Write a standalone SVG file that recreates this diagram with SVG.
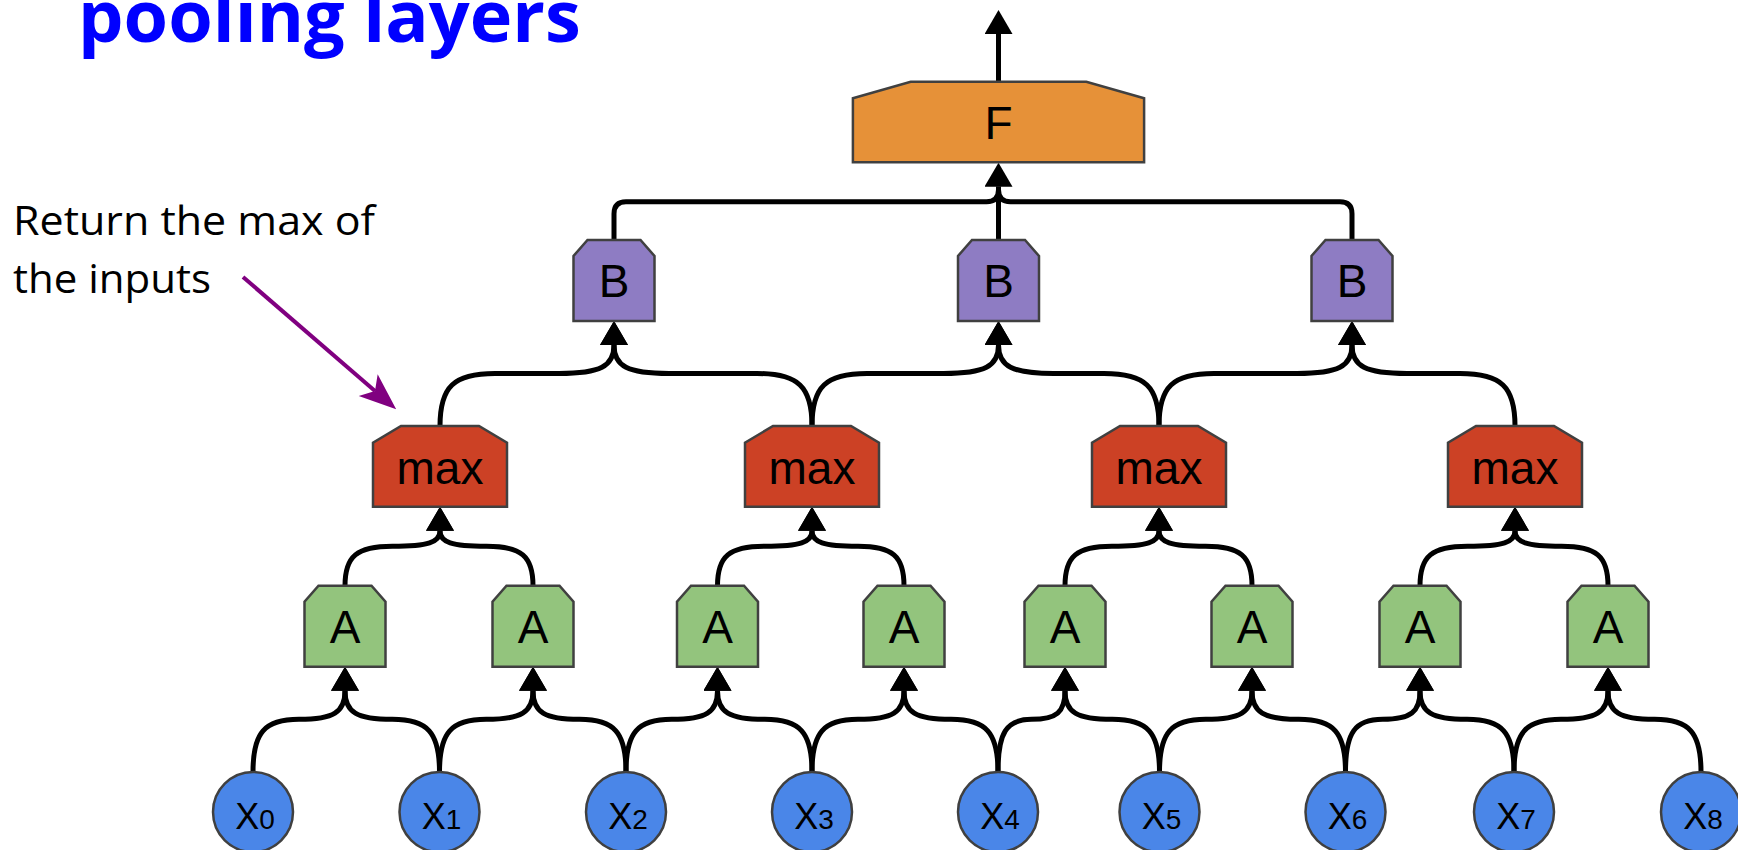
<svg xmlns="http://www.w3.org/2000/svg" xmlns:xlink="http://www.w3.org/1999/xlink" width="1738" height="850" viewBox="0 0 1738 850">
<defs>
<style>
.edge{fill:none;stroke:#000;stroke-width:5;stroke-linejoin:round;marker-end:url(#ah)}
.bus{fill:none;stroke:#000;stroke-width:5;stroke-linejoin:round}
.shape{stroke:#404040;stroke-width:2.5}
.ga{fill:#93c47d}
.rm{fill:#cc4125}
.pb{fill:#8e7cc3}
.of{fill:#e69138}
.bx{fill:#4a86e8}
.lbl{font-family:"Liberation Sans",Arial,sans-serif;font-size:46px;text-anchor:middle;fill:#000}
.xl{font-family:"Liberation Sans",Arial,sans-serif;font-size:36px;text-anchor:middle;fill:#000}
.sub{font-size:28px}
.title{font-family:"Open Sans","Noto Sans",sans-serif;font-weight:700;font-size:72px;fill:#0000ff}
.note{font-family:"Open Sans","Noto Sans",sans-serif;font-weight:400;font-size:41px;fill:#000}
</style>
<marker id="ah" markerUnits="userSpaceOnUse" viewBox="0 0 26 28" markerWidth="26" markerHeight="28" refX="0" refY="14" orient="auto">
<path d="M0,0 L24,14 L0,28 Z" fill="#000"/>
</marker>
<marker id="pa" markerUnits="userSpaceOnUse" viewBox="0 0 38 30" markerWidth="38" markerHeight="30" refX="9" refY="15" orient="auto">
<path d="M0,0.5 L37,15 L0,29.5 L9,15 Z" fill="#800080"/>
</marker>
<path id="shA" d="M-40.5,40.5 V-24.5 L-26.5,-40.5 H26.5 L40.5,-24.5 V40.5 Z"/>
<path id="shM" d="M-67,40.35 V-23.65 L-39,-40.35 H39 L67,-23.65 V40.35 Z"/>
</defs>
<rect width="1738" height="850" fill="#fff"/>

<text class="title" x="78" y="42">pooling layers</text>

<g id="annotation">
<text class="note"><tspan x="13" y="235" textLength="362" lengthAdjust="spacingAndGlyphs">Return the max of</tspan><tspan x="13" y="293" textLength="198" lengthAdjust="spacingAndGlyphs">the inputs</tspan></text>
<path d="M243,277 L375,391" stroke="#800080" stroke-width="4" fill="none" marker-end="url(#pa)"/>
</g>

<g id="connectors">
<path class="edge" d="M253,772 C253,732.5 264.5,719.35 299,719.35 C333.5,719.35 345,712.2 345,690.7"/>
<path class="edge" d="M439.5,772 C439.5,732.5 427.69,719.35 392.25,719.35 C356.81,719.35 345,712.2 345,690.7"/>
<path class="edge" d="M439.5,772 C439.5,732.5 451.19,719.35 486.25,719.35 C521.31,719.35 533,712.2 533,690.7"/>
<path class="edge" d="M626,772 C626,732.5 614.38,719.35 579.5,719.35 C544.63,719.35 533,712.2 533,690.7"/>
<path class="edge" d="M626,772 C626,732.5 637.44,719.35 671.75,719.35 C706.06,719.35 717.5,712.2 717.5,690.7"/>
<path class="edge" d="M812,772 C812,732.5 800.19,719.35 764.75,719.35 C729.31,719.35 717.5,712.2 717.5,690.7"/>
<path class="edge" d="M812,772 C812,732.5 823.5,719.35 858,719.35 C892.5,719.35 904,712.2 904,690.7"/>
<path class="edge" d="M998,772 C998,732.5 986.25,719.35 951,719.35 C915.75,719.35 904,712.2 904,690.7"/>
<path class="edge" d="M998,772 C998,732.5 1006.38,719.35 1031.5,719.35 C1056.63,719.35 1065,712.2 1065,690.7"/>
<path class="edge" d="M1159.5,772 C1159.5,732.5 1147.69,719.35 1112.25,719.35 C1076.81,719.35 1065,712.2 1065,690.7"/>
<path class="edge" d="M1159.5,772 C1159.5,732.5 1171.06,719.35 1205.75,719.35 C1240.44,719.35 1252,712.2 1252,690.7"/>
<path class="edge" d="M1345.5,772 C1345.5,732.5 1333.81,719.35 1298.75,719.35 C1263.69,719.35 1252,712.2 1252,690.7"/>
<path class="edge" d="M1345.5,772 C1345.5,732.5 1354.81,719.35 1382.75,719.35 C1410.69,719.35 1420,712.2 1420,690.7"/>
<path class="edge" d="M1514,772 C1514,732.5 1502.25,719.35 1467,719.35 C1431.75,719.35 1420,712.2 1420,690.7"/>
<path class="edge" d="M1514,772 C1514,732.5 1525.75,719.35 1561,719.35 C1596.25,719.35 1608,712.2 1608,690.7"/>
<path class="edge" d="M1701,772 C1701,732.5 1689.38,719.35 1654.5,719.35 C1619.63,719.35 1608,712.2 1608,690.7"/>

<path class="edge" d="M345,585.7 C345,556.1 356.88,546.2 392.5,546.2 C428.13,546.2 440,542.3 440,530.7"/>
<path class="edge" d="M533,585.7 C533,556.1 521.38,546.2 486.5,546.2 C451.63,546.2 440,542.3 440,530.7"/>
<path class="edge" d="M717.5,585.7 C717.5,556.1 729.31,546.2 764.75,546.2 C800.19,546.2 812,542.3 812,530.7"/>
<path class="edge" d="M904,585.7 C904,556.1 892.5,546.2 858,546.2 C823.5,546.2 812,542.3 812,530.7"/>
<path class="edge" d="M1065,585.7 C1065,556.1 1076.75,546.2 1112,546.2 C1147.25,546.2 1159,542.3 1159,530.7"/>
<path class="edge" d="M1252,585.7 C1252,556.1 1240.38,546.2 1205.5,546.2 C1170.63,546.2 1159,542.3 1159,530.7"/>
<path class="edge" d="M1420,585.7 C1420,556.1 1431.88,546.2 1467.5,546.2 C1503.13,546.2 1515,542.3 1515,530.7"/>
<path class="edge" d="M1608,585.7 C1608,556.1 1596.38,546.2 1561.5,546.2 C1526.63,546.2 1515,542.3 1515,530.7"/>

<path class="edge" d="M440,426 C440,386.6 453.75,373.5 495,373.5 L559,373.5 C600.25,373.5 614,366.4 614,345"/>
<path class="edge" d="M812,426 C812,386.6 798.25,373.5 757,373.5 L669,373.5 C627.75,373.5 614,366.4 614,345"/>
<path class="edge" d="M812,426 C812,386.6 825.75,373.5 867,373.5 L943.5,373.5 C984.75,373.5 998.5,366.4 998.5,345"/>
<path class="edge" d="M1159,426 C1159,386.6 1145.25,373.5 1104,373.5 L1053.5,373.5 C1012.25,373.5 998.5,366.4 998.5,345"/>
<path class="edge" d="M1159,426 C1159,386.6 1172.75,373.5 1214,373.5 L1297,373.5 C1338.25,373.5 1352,366.4 1352,345"/>
<path class="edge" d="M1515,426 C1515,386.6 1501.25,373.5 1460,373.5 L1407,373.5 C1365.75,373.5 1352,366.4 1352,345"/>

<path class="bus" d="M614,240 V213.7 Q614,201.7 626,201.7 H986.5 Q998.5,201.7 998.5,189.7 V186.7"/>
<path class="bus" d="M1352,240 V213.7 Q1352,201.7 1340,201.7 H1010.5 Q998.5,201.7 998.5,189.7 V186.7"/>
<path class="edge" d="M998.5,240 V186.7"/>
<path class="edge" d="M998.5,81.7 V34"/>
</g>

<g id="f"><polygon class="shape of" points="852.9,162.3 852.9,98.3 910.7,81.7 1086.3,81.7 1144.1,98.3 1144.1,162.3"/><text class="lbl" x="998.5" y="138.5">F</text></g>

<g id="b0"><use href="#shA" class="shape pb" x="614" y="280.5"/><text class="lbl" x="614" y="297">B</text></g>
<g id="b1"><use href="#shA" class="shape pb" x="998.5" y="280.5"/><text class="lbl" x="998.5" y="297">B</text></g>
<g id="b2"><use href="#shA" class="shape pb" x="1352" y="280.5"/><text class="lbl" x="1352" y="297">B</text></g>

<g id="max0"><use href="#shM" class="shape rm" x="440" y="466.35"/><text class="lbl" x="440" y="484">max</text></g>
<g id="max1"><use href="#shM" class="shape rm" x="812" y="466.35"/><text class="lbl" x="812" y="484">max</text></g>
<g id="max2"><use href="#shM" class="shape rm" x="1159" y="466.35"/><text class="lbl" x="1159" y="484">max</text></g>
<g id="max3"><use href="#shM" class="shape rm" x="1515" y="466.35"/><text class="lbl" x="1515" y="484">max</text></g>

<g id="a0"><use href="#shA" class="shape ga" x="345" y="626.2"/><text class="lbl" x="345" y="643">A</text></g>
<g id="a1"><use href="#shA" class="shape ga" x="533" y="626.2"/><text class="lbl" x="533" y="643">A</text></g>
<g id="a2"><use href="#shA" class="shape ga" x="717.5" y="626.2"/><text class="lbl" x="717.5" y="643">A</text></g>
<g id="a3"><use href="#shA" class="shape ga" x="904" y="626.2"/><text class="lbl" x="904" y="643">A</text></g>
<g id="a4"><use href="#shA" class="shape ga" x="1065" y="626.2"/><text class="lbl" x="1065" y="643">A</text></g>
<g id="a5"><use href="#shA" class="shape ga" x="1252" y="626.2"/><text class="lbl" x="1252" y="643">A</text></g>
<g id="a6"><use href="#shA" class="shape ga" x="1420" y="626.2"/><text class="lbl" x="1420" y="643">A</text></g>
<g id="a7"><use href="#shA" class="shape ga" x="1608" y="626.2"/><text class="lbl" x="1608" y="643">A</text></g>

<g id="x0"><circle class="shape bx" cx="253" cy="812" r="40"/><text class="xl" x="255" y="828.5">X<tspan class="sub">0</tspan></text></g>
<g id="x1"><circle class="shape bx" cx="439.5" cy="812" r="40"/><text class="xl" x="441.5" y="828.5">X<tspan class="sub">1</tspan></text></g>
<g id="x2"><circle class="shape bx" cx="626" cy="812" r="40"/><text class="xl" x="628" y="828.5">X<tspan class="sub">2</tspan></text></g>
<g id="x3"><circle class="shape bx" cx="812" cy="812" r="40"/><text class="xl" x="814" y="828.5">X<tspan class="sub">3</tspan></text></g>
<g id="x4"><circle class="shape bx" cx="998" cy="812" r="40"/><text class="xl" x="1000" y="828.5">X<tspan class="sub">4</tspan></text></g>
<g id="x5"><circle class="shape bx" cx="1159.5" cy="812" r="40"/><text class="xl" x="1161.5" y="828.5">X<tspan class="sub">5</tspan></text></g>
<g id="x6"><circle class="shape bx" cx="1345.5" cy="812" r="40"/><text class="xl" x="1347.5" y="828.5">X<tspan class="sub">6</tspan></text></g>
<g id="x7"><circle class="shape bx" cx="1514" cy="812" r="40"/><text class="xl" x="1516" y="828.5">X<tspan class="sub">7</tspan></text></g>
<g id="x8"><circle class="shape bx" cx="1701" cy="812" r="40"/><text class="xl" x="1703" y="828.5">X<tspan class="sub">8</tspan></text></g>
</svg>
